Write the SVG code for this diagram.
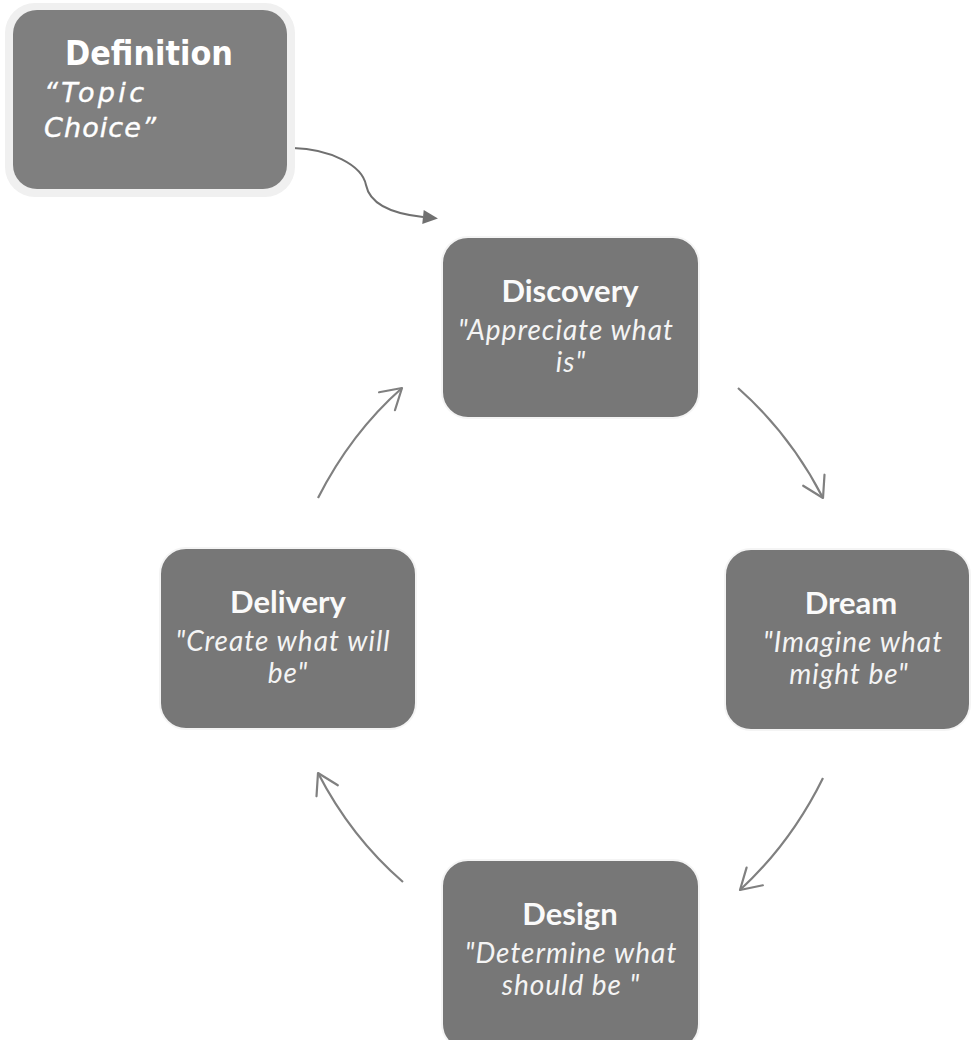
<svg xmlns="http://www.w3.org/2000/svg" width="971" height="1040" viewBox="0 0 971 1040">
  <defs>
    <style>
      .box { fill: #777777; stroke: #f4f4f4; stroke-width: 2; }
      .title { font-family: Lato, "Open Sans", sans-serif; font-weight: bold; font-size: 31px; fill: #fafafa; text-anchor: middle; }
      .sub { font-family: Lato, "Open Sans", sans-serif; font-style: italic; font-size: 28px; letter-spacing: 1px; fill: #f4f4f4; text-anchor: middle; }
      .def-title { font-family: "DejaVu Sans", Verdana, sans-serif; font-weight: bold; font-size: 34px; fill: #ffffff; }
      .def-sub { font-family: "DejaVu Sans", Verdana, sans-serif; font-style: italic; font-size: 27px; fill: #ffffff; stroke: #ffffff; stroke-width: 0.4; }
      .cycle { fill: none; stroke: #808080; stroke-width: 2.2; marker-end: url(#chevron); }
      .feed { fill: none; stroke: #707070; stroke-width: 2; marker-end: url(#solid); }
    </style>
    <marker id="chevron" markerUnits="userSpaceOnUse" markerWidth="30" markerHeight="30" viewBox="-24 -15 28 30" refX="0" refY="0" orient="auto">
      <path d="M-20,-12 L0,0 L-20,12" fill="none" stroke="#808080" stroke-width="2.2" stroke-linecap="round" stroke-linejoin="round"/>
    </marker>
    <marker id="solid" markerUnits="userSpaceOnUse" markerWidth="20" markerHeight="20" viewBox="-2 -10 20 20" refX="0" refY="0" orient="auto">
      <path d="M0,-7 L15,0 L0,7 Z" fill="#707070"/>
    </marker>
  </defs>

  <rect width="971" height="1040" fill="#ffffff"/>

  <!-- connectors -->
  <g id="connectors">
    <path class="feed" d="M293,148 C330,149 362,165 366,185 C370,205 395,214 423,217"/>
    <path class="cycle" d="M738,388 Q790,434 823,498"/>
    <path class="cycle" d="M823,778 Q791,843 740,890"/>
    <path class="cycle" d="M403,882 Q351,837 318,773"/>
    <path class="cycle" d="M318,498 Q351,433 402,388"/>
  </g>

  <!-- starting node -->
  <g id="definition">
    <rect x="5" y="3" width="290" height="194" rx="30" fill="#f0f0f0"/>
    <rect x="13" y="10" width="274" height="179" rx="24" fill="#7f7f7f"/>
    <text class="def-title" x="65" y="65" textLength="168" lengthAdjust="spacingAndGlyphs">Definition</text>
    <text class="def-sub" x="44" y="102" textLength="100" lengthAdjust="spacing">“Topic</text>
    <text class="def-sub" x="44" y="137" textLength="112" lengthAdjust="spacing">Choice”</text>
  </g>

  <!-- cycle nodes -->
  <g id="discovery">
    <rect class="box" x="442" y="237" width="257" height="181" rx="26"/>
    <text class="title" x="570" y="302">Discovery</text>
    <text class="sub" x="566" y="340">"Appreciate what</text>
    <text class="sub" x="571" y="372">is"</text>
  </g>

  <g id="dream">
    <rect class="box" x="725" y="549" width="245" height="181" rx="26"/>
    <text class="title" x="851" y="614">Dream</text>
    <text class="sub" x="853" y="652">"Imagine what</text>
    <text class="sub" x="849" y="684">might be"</text>
  </g>

  <g id="delivery">
    <rect class="box" x="160" y="548" width="256" height="181" rx="26"/>
    <text class="title" x="288" y="613">Delivery</text>
    <text class="sub" x="283" y="651">"Create what will</text>
    <text class="sub" x="288" y="683">be"</text>
  </g>

  <g id="design">
    <rect class="box" x="442" y="860" width="257" height="190" rx="26"/>
    <text class="title" x="570" y="925">Design</text>
    <text class="sub" x="571" y="963">"Determine what</text>
    <text class="sub" x="571" y="995">should be "</text>
  </g>
</svg>
